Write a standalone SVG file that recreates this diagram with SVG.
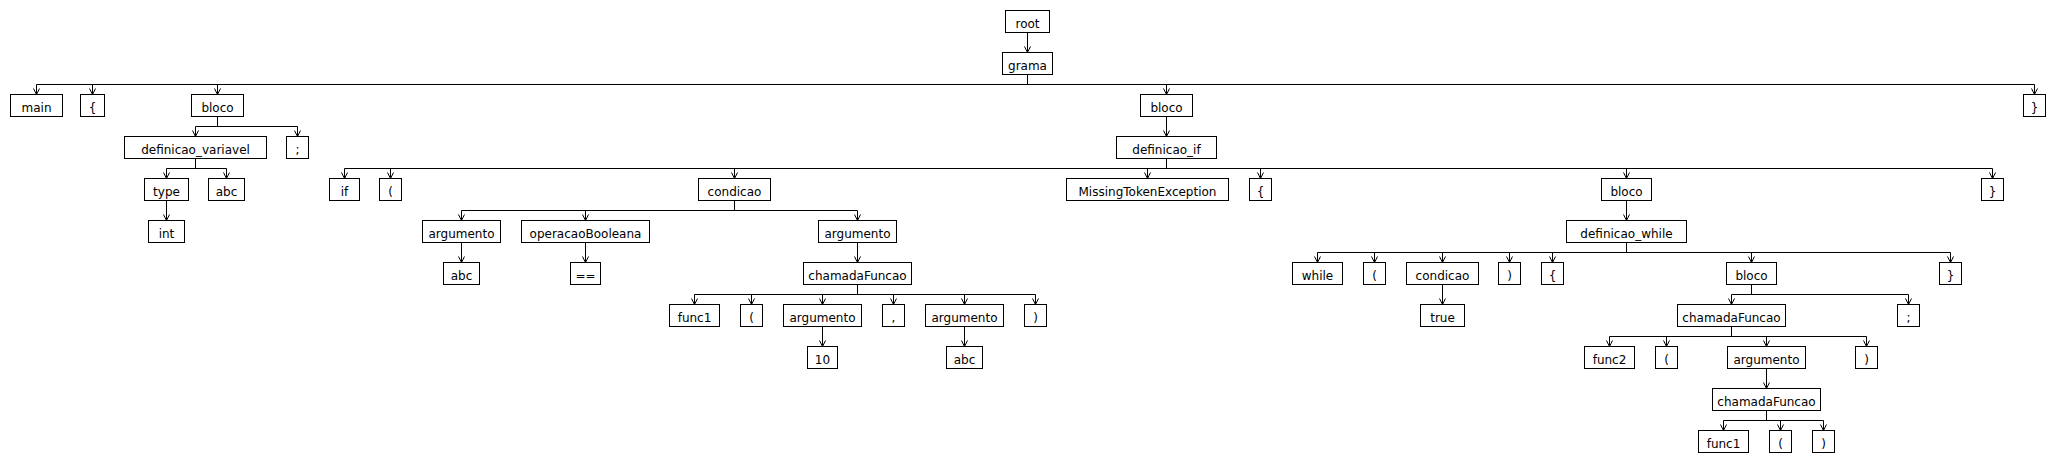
<svg xmlns="http://www.w3.org/2000/svg" width="2056" height="462" viewBox="0 0 2056 462">
<style>
rect.n{fill:#fff;stroke:#000;stroke-width:1}
text{font-family:"DejaVu Sans","Liberation Sans",sans-serif;font-size:12px;fill:#000;text-anchor:middle}
.c path{fill:none;stroke:#000;stroke-width:1}
.c path.d{marker-end:url(#arr)}
</style>
<defs>
<marker id="arr" markerUnits="userSpaceOnUse" orient="auto" refX="0" refY="0" markerWidth="10" markerHeight="10" overflow="visible"><path d="M-6,-3 L0,0 L-6,3" fill="none" stroke="#000" stroke-width="1"/></marker>
</defs>
<rect x="0" y="0" width="2056" height="462" fill="#fff"/>
<g class="c" id="connectors">
<path class="d" d="M1027.5,32.5V52.5"/>
<path d="M1027.5,74.5V84.5M36.5,84.5H2034.5"/>
<path class="d" d="M36.5,84.5V94.5"/><path class="d" d="M92.5,84.5V94.5"/><path class="d" d="M217.5,84.5V94.5"/><path class="d" d="M1166.5,84.5V94.5"/><path class="d" d="M2034.5,84.5V94.5"/>
<path d="M217.5,116.5V126.5M195.5,126.5H297.5"/>
<path class="d" d="M195.5,126.5V136.5"/><path class="d" d="M297.5,126.5V136.5"/>
<path class="d" d="M1166.5,116.5V136.5"/>
<path d="M195.5,158.5V168.5M166.5,168.5H226.5"/>
<path class="d" d="M166.5,168.5V178.5"/><path class="d" d="M226.5,168.5V178.5"/>
<path d="M1166.5,158.5V168.5M344.5,168.5H1992.5"/>
<path class="d" d="M344.5,168.5V178.5"/><path class="d" d="M390.5,168.5V178.5"/><path class="d" d="M734.5,168.5V178.5"/><path class="d" d="M1147.5,168.5V178.5"/><path class="d" d="M1260.5,168.5V178.5"/><path class="d" d="M1626.5,168.5V178.5"/><path class="d" d="M1992.5,168.5V178.5"/>
<path class="d" d="M166.5,200.5V220.5"/>
<path d="M734.5,200.5V210.5M461.5,210.5H857.5"/>
<path class="d" d="M461.5,210.5V220.5"/><path class="d" d="M585.5,210.5V220.5"/><path class="d" d="M857.5,210.5V220.5"/>
<path class="d" d="M1626.5,200.5V220.5"/>
<path class="d" d="M461.5,242.5V262.5"/><path class="d" d="M585.5,242.5V262.5"/><path class="d" d="M857.5,242.5V262.5"/>
<path d="M1626.5,242.5V252.5M1317.5,252.5H1950.5"/>
<path class="d" d="M1317.5,252.5V262.5"/><path class="d" d="M1374.5,252.5V262.5"/><path class="d" d="M1442.5,252.5V262.5"/><path class="d" d="M1509.5,252.5V262.5"/><path class="d" d="M1552.5,252.5V262.5"/><path class="d" d="M1751.5,252.5V262.5"/><path class="d" d="M1950.5,252.5V262.5"/>
<path d="M857.5,284.5V294.5M694.5,294.5H1035.5"/>
<path class="d" d="M694.5,294.5V304.5"/><path class="d" d="M751.5,294.5V304.5"/><path class="d" d="M822.5,294.5V304.5"/><path class="d" d="M893.5,294.5V304.5"/><path class="d" d="M964.5,294.5V304.5"/><path class="d" d="M1035.5,294.5V304.5"/>
<path class="d" d="M1442.5,284.5V304.5"/>
<path d="M1751.5,284.5V294.5M1731.5,294.5H1908.5"/>
<path class="d" d="M1731.5,294.5V304.5"/><path class="d" d="M1908.5,294.5V304.5"/>
<path class="d" d="M822.5,326.5V346.5"/><path class="d" d="M964.5,326.5V346.5"/>
<path d="M1731.5,326.5V336.5M1609.5,336.5H1866.5"/>
<path class="d" d="M1609.5,336.5V346.5"/><path class="d" d="M1666.5,336.5V346.5"/><path class="d" d="M1766.5,336.5V346.5"/><path class="d" d="M1866.5,336.5V346.5"/>
<path class="d" d="M1766.5,368.5V388.5"/>
<path d="M1766.5,410.5V420.5M1723.5,420.5H1823.5"/>
<path class="d" d="M1723.5,420.5V430.5"/><path class="d" d="M1780.5,420.5V430.5"/><path class="d" d="M1823.5,420.5V430.5"/>
</g>
<g id="n_root"><rect class="n" x="1005.5" y="10.5" width="44" height="22"/><text x="1027.5" y="28">root</text></g>
<g id="n_grama"><rect class="n" x="1002.5" y="52.5" width="50" height="22"/><text x="1027.5" y="70">grama</text></g>
<g id="n_main"><rect class="n" x="10.5" y="94.5" width="52" height="22"/><text x="36.5" y="112">main</text></g>
<g id="n_lbrace1"><rect class="n" x="80.5" y="94.5" width="24" height="22"/><text x="92.5" y="112">{</text></g>
<g id="n_bloco1"><rect class="n" x="191.5" y="94.5" width="52" height="22"/><text x="217.5" y="112">bloco</text></g>
<g id="n_bloco2"><rect class="n" x="1140.5" y="94.5" width="52" height="22"/><text x="1166.5" y="112">bloco</text></g>
<g id="n_rbrace1"><rect class="n" x="2023.5" y="94.5" width="22" height="22"/><text x="2034.5" y="112">}</text></g>
<g id="n_defvar"><rect class="n" x="124.5" y="136.5" width="142" height="22"/><text x="195.5" y="154">definicao_variavel</text></g>
<g id="n_semi1"><rect class="n" x="286.5" y="136.5" width="22" height="22"/><text x="297.5" y="154">;</text></g>
<g id="n_defif"><rect class="n" x="1116.5" y="136.5" width="100" height="22"/><text x="1166.5" y="154">definicao_if</text></g>
<g id="n_type"><rect class="n" x="144.5" y="178.5" width="44" height="22"/><text x="166.5" y="196">type</text></g>
<g id="n_abc1"><rect class="n" x="208.5" y="178.5" width="36" height="22"/><text x="226.5" y="196">abc</text></g>
<g id="n_if"><rect class="n" x="329.5" y="178.5" width="30" height="22"/><text x="344.5" y="196">if</text></g>
<g id="n_lparen1"><rect class="n" x="379.5" y="178.5" width="22" height="22"/><text x="390.5" y="196">(</text></g>
<g id="n_cond1"><rect class="n" x="698.5" y="178.5" width="72" height="22"/><text x="734.5" y="196">condicao</text></g>
<g id="n_mte"><rect class="n" x="1066.5" y="178.5" width="162" height="22"/><text x="1147.5" y="196">MissingTokenException</text></g>
<g id="n_lbrace2"><rect class="n" x="1249.5" y="178.5" width="22" height="22"/><text x="1260.5" y="196">{</text></g>
<g id="n_bloco3"><rect class="n" x="1601.5" y="178.5" width="50" height="22"/><text x="1626.5" y="196">bloco</text></g>
<g id="n_rbrace2"><rect class="n" x="1981.5" y="178.5" width="22" height="22"/><text x="1992.5" y="196">}</text></g>
<g id="n_int"><rect class="n" x="148.5" y="220.5" width="36" height="22"/><text x="166.5" y="238">int</text></g>
<g id="n_arg1"><rect class="n" x="422.5" y="220.5" width="78" height="22"/><text x="461.5" y="238">argumento</text></g>
<g id="n_opb"><rect class="n" x="521.5" y="220.5" width="128" height="22"/><text x="585.5" y="238">operacaoBooleana</text></g>
<g id="n_arg2"><rect class="n" x="818.5" y="220.5" width="78" height="22"/><text x="857.5" y="238">argumento</text></g>
<g id="n_defwhile"><rect class="n" x="1566.5" y="220.5" width="120" height="22"/><text x="1626.5" y="238">definicao_while</text></g>
<g id="n_abc2"><rect class="n" x="443.5" y="262.5" width="36" height="22"/><text x="461.5" y="280">abc</text></g>
<g id="n_eq"><rect class="n" x="570.5" y="262.5" width="30" height="22"/><text x="585.5" y="280">==</text></g>
<g id="n_call1"><rect class="n" x="803.5" y="262.5" width="108" height="22"/><text x="857.5" y="280">chamadaFuncao</text></g>
<g id="n_while"><rect class="n" x="1292.5" y="262.5" width="50" height="22"/><text x="1317.5" y="280">while</text></g>
<g id="n_lparen2"><rect class="n" x="1363.5" y="262.5" width="22" height="22"/><text x="1374.5" y="280">(</text></g>
<g id="n_cond2"><rect class="n" x="1406.5" y="262.5" width="72" height="22"/><text x="1442.5" y="280">condicao</text></g>
<g id="n_rparen2"><rect class="n" x="1498.5" y="262.5" width="22" height="22"/><text x="1509.5" y="280">)</text></g>
<g id="n_lbrace3"><rect class="n" x="1541.5" y="262.5" width="22" height="22"/><text x="1552.5" y="280">{</text></g>
<g id="n_bloco4"><rect class="n" x="1726.5" y="262.5" width="50" height="22"/><text x="1751.5" y="280">bloco</text></g>
<g id="n_rbrace3"><rect class="n" x="1939.5" y="262.5" width="22" height="22"/><text x="1950.5" y="280">}</text></g>
<g id="n_func1a"><rect class="n" x="669.5" y="304.5" width="50" height="22"/><text x="694.5" y="322">func1</text></g>
<g id="n_lparen3"><rect class="n" x="740.5" y="304.5" width="22" height="22"/><text x="751.5" y="322">(</text></g>
<g id="n_arg3"><rect class="n" x="783.5" y="304.5" width="78" height="22"/><text x="822.5" y="322">argumento</text></g>
<g id="n_comma"><rect class="n" x="882.5" y="304.5" width="22" height="22"/><text x="893.5" y="322">,</text></g>
<g id="n_arg4"><rect class="n" x="925.5" y="304.5" width="78" height="22"/><text x="964.5" y="322">argumento</text></g>
<g id="n_rparen3"><rect class="n" x="1024.5" y="304.5" width="22" height="22"/><text x="1035.5" y="322">)</text></g>
<g id="n_true"><rect class="n" x="1420.5" y="304.5" width="44" height="22"/><text x="1442.5" y="322">true</text></g>
<g id="n_call2"><rect class="n" x="1677.5" y="304.5" width="108" height="22"/><text x="1731.5" y="322">chamadaFuncao</text></g>
<g id="n_semi2"><rect class="n" x="1897.5" y="304.5" width="22" height="22"/><text x="1908.5" y="322">;</text></g>
<g id="n_10"><rect class="n" x="807.5" y="346.5" width="30" height="22"/><text x="822.5" y="364">10</text></g>
<g id="n_abc3"><rect class="n" x="946.5" y="346.5" width="36" height="22"/><text x="964.5" y="364">abc</text></g>
<g id="n_func2"><rect class="n" x="1584.5" y="346.5" width="50" height="22"/><text x="1609.5" y="364">func2</text></g>
<g id="n_lparen4"><rect class="n" x="1655.5" y="346.5" width="22" height="22"/><text x="1666.5" y="364">(</text></g>
<g id="n_arg5"><rect class="n" x="1727.5" y="346.5" width="78" height="22"/><text x="1766.5" y="364">argumento</text></g>
<g id="n_rparen4"><rect class="n" x="1855.5" y="346.5" width="22" height="22"/><text x="1866.5" y="364">)</text></g>
<g id="n_call3"><rect class="n" x="1712.5" y="388.5" width="108" height="22"/><text x="1766.5" y="406">chamadaFuncao</text></g>
<g id="n_func1b"><rect class="n" x="1698.5" y="430.5" width="50" height="22"/><text x="1723.5" y="448">func1</text></g>
<g id="n_lparen5"><rect class="n" x="1769.5" y="430.5" width="22" height="22"/><text x="1780.5" y="448">(</text></g>
<g id="n_rparen5"><rect class="n" x="1812.5" y="430.5" width="22" height="22"/><text x="1823.5" y="448">)</text></g>
</svg>
